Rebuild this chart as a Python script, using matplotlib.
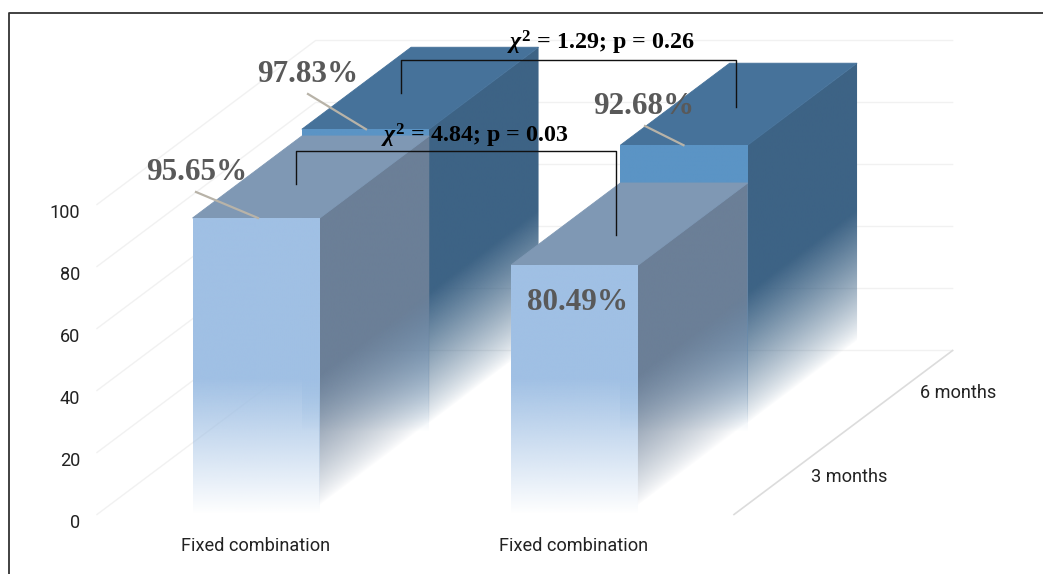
import matplotlib
matplotlib.use("Agg")
import matplotlib.pyplot as plt
import numpy as np
from matplotlib.colors import to_rgb
from matplotlib.patches import Polygon

# chart data
categories = ["Fixed combination", "Fixed combination"]
periods = ["3 months", "6 months"]
values_3m = [95.65, 80.49]
values_6m = [97.83, 92.68]
y_ticks = [0, 20, 40, 60, 80, 100]
stat_texts = [" = 4.84; p = 0.03", " = 1.29; p = 0.26"]

# fake 3d projection, measured on the screenshot (pixels)
ORIGIN_X, ORIGIN_Y = 97.0, 514.5
CAT_W = 318.5
DEPTH_X, DEPTH_Y = 109.3, 82.0
PX_PER_UNIT = 3.1
BAR_W = 0.4
FADE_TOP = 44.0

# front, top, side colours of each row
COLORS_3M = ("#a0c0e4", "#7f98b4", "#6b7f97")
COLORS_6M = ("#5b94c5", "#46729a", "#3d6385")
TEXT = "#222222"
SANS = "Roboto"
TICK_SIZE = 13.1

plt.rcParams["mathtext.fontset"] = "custom"
plt.rcParams["mathtext.rm"] = "Liberation Serif:bold"
plt.rcParams["mathtext.it"] = "Liberation Serif:italic:bold"
plt.rcParams["mathtext.bf"] = "Liberation Serif:bold"


def project(cat, depth, value):
    px = ORIGIN_X + CAT_W * cat + DEPTH_X * depth
    py = ORIGIN_Y - PX_PER_UNIT * value - DEPTH_Y * depth
    return px, py


def draw_face(ax, corners, color, alpha_fn, z):
    corners = np.array(corners)
    xs = np.arange(np.floor(corners[:, 0].min()), np.ceil(corners[:, 0].max()) + 1)
    ys = np.arange(np.floor(corners[:, 1].min()), np.ceil(corners[:, 1].max()) + 1)
    gx, gy = np.meshgrid(xs, ys)
    rgba = np.zeros(gx.shape + (4,))
    rgba[..., :3] = to_rgb(color)
    rgba[..., 3] = np.clip(alpha_fn(gx, gy), 0, 1)
    img = ax.imshow(rgba, extent=(xs[0], xs[-1], ys[-1], ys[0]), aspect="auto",
                    interpolation="bilinear", zorder=z)
    img.set_clip_path(Polygon(corners, closed=True, transform=ax.transData))


def draw_bar(ax, cat, depth, value, colors, z):
    c_front, c_top, c_side = colors
    left = cat + 0.5 - BAR_W / 2
    right = cat + 0.5 + BAR_W / 2
    x_right = project(right, depth, 0)[0]
    base_y = project(0, depth, 0)[1]

    # fade lines run parallel to the base, already white just above it
    def side_alpha(gx, gy):
        d = (gx - x_right) / DEPTH_X
        v = (base_y - DEPTH_Y * d - gy) / PX_PER_UNIT
        return np.clip((v - 3) / 42, 0, 1) ** 0.8

    # side goes a bit under the front face to hide the seam
    side = [project(right, depth, value), project(right, depth + 1, value),
            project(right, depth + 1, 0), project(right, depth, 0)]
    side = [(x - 0.5 if i in (0, 3) else x, y) for i, (x, y) in enumerate(side)]
    draw_face(ax, side, c_side, side_alpha, z)

    top = [project(left, depth, value), project(right, depth, value),
           project(right, depth + 1, value), project(left, depth + 1, value)]
    ax.add_patch(Polygon(top, closed=True, facecolor=c_top, edgecolor=c_top,
                         linewidth=0.6, zorder=z + 0.1))

    draw_face(ax, [project(left, depth, value), project(right, depth, value),
                   project(right, depth, 0), project(left, depth, 0)],
              c_front, lambda gx, gy: (base_y - gy) / PX_PER_UNIT / FADE_TOP, z + 0.2)


fig = plt.figure(figsize=(10.43, 5.74), dpi=100)
ax = fig.add_axes([0, 0, 1, 1])

# walls
for tick in y_ticks:
    ax.plot(*zip(project(0, 0, tick), project(0, 2, tick), project(2, 2, tick)),
            color="#f1f1f1", linewidth=1.0, zorder=1)
    ax.text(80, project(0, 0, tick)[1] + 9, str(tick), ha="right", va="center",
            fontsize=TICK_SIZE, family=SANS, color=TEXT)
ax.plot(*zip(project(2, 0, 0), project(2, 2, 0)), color="#dcdcdc", linewidth=1.2, zorder=1)

# 6 months row behind, 3 months row in front
for i, v in enumerate(values_6m):
    draw_bar(ax, i, 1, v, COLORS_6M, 2)
for i, v in enumerate(values_3m):
    draw_bar(ax, i, 0, v, COLORS_3M, 3)

# category and depth labels
for i, name in enumerate(categories):
    ax.text(project(i + 0.5, 0, 0)[0] - 1, 546, name, ha="center", va="center",
            fontsize=TICK_SIZE, family=SANS, color=TEXT)
ax.text(849.5, 477, periods[0], ha="center", va="center", fontsize=TICK_SIZE,
        family=SANS, color=TEXT)
ax.text(958.5, 393, periods[1], ha="center", va="center", fontsize=TICK_SIZE,
        family=SANS, color=TEXT)

# value labels and leader lines
for v, pos in zip(values_3m + values_6m, [(197, 173), (578, 303), (308, 75), (644, 107)]):
    ax.text(*pos, f"{v:.2f}%", ha="center", va="center", fontsize=22.4,
            family="Liberation Serif", weight="bold", color="#595959", zorder=7)
ax.plot([196, 258], [192, project(0, 0, values_3m[0])[1]], color="#b8b3a8", linewidth=1.6, zorder=6)
ax.plot([308, 366], [94, project(0, 1, values_6m[0])[1]], color="#b8b3a8", linewidth=1.6, zorder=6)
ax.plot([645, 683.5], [126, project(0, 1, values_6m[1])[1]], color="#b8b3a8", linewidth=1.6, zorder=6)

# significance brackets
ax.plot([295.5, 295.5, 616, 616], [184, 151, 151, 235], color="#111111", linewidth=1.0, zorder=8)
ax.plot([400.5, 400.5, 735.5, 735.5], [92.5, 60, 60, 106.5], color="#111111", linewidth=1.0, zorder=8)
ax.text(474.5, 135.5, r"$\chi^{2}$" + stat_texts[0], ha="center", va="center", fontsize=17.3,
        family="Liberation Serif", weight="bold", color="black", zorder=9)
ax.text(601, 42.5, r"$\chi^{2}$" + stat_texts[1], ha="center", va="center", fontsize=17.3,
        family="Liberation Serif", weight="bold", color="black", zorder=9)

# frame of the screenshot
ax.plot([8.5, 8.5, 1043], [574, 12.5, 12.5], color="#333333", linewidth=1.3, zorder=10)

ax.set_xlim(0, 1043)
ax.set_ylim(574, 0)
ax.axis("off")
fig.savefig("out.png", dpi=100)
